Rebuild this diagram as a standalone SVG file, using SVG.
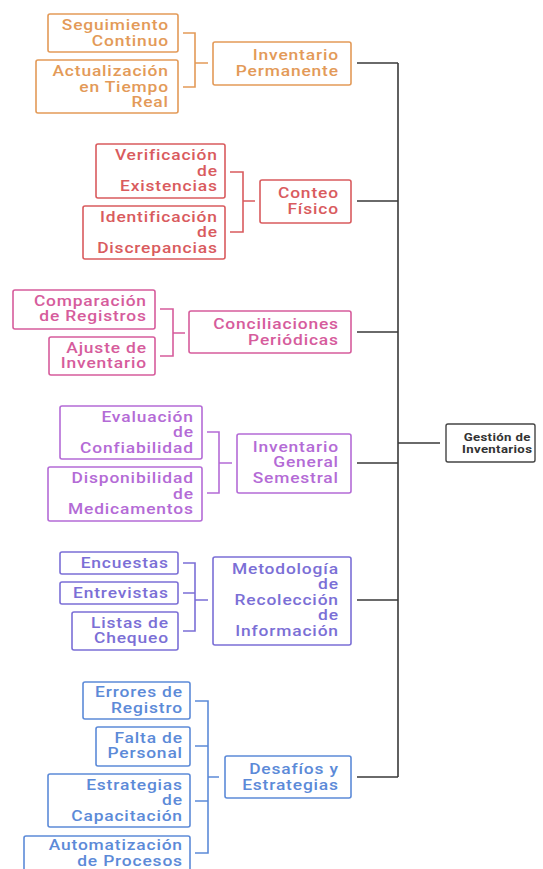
<svg xmlns="http://www.w3.org/2000/svg" width="543" height="869" viewBox="0 0 543 869">
<style>
rect.b{fill:#fff;stroke-width:1.6}
text{font-family:Roboto,"Liberation Sans",sans-serif;font-size:14.5px;font-weight:500;letter-spacing:0.7px;text-anchor:end;transform:scale(1.2,1)}
.or rect{stroke:#E39A58}.or text{fill:#E39A58}
.rd rect{stroke:#D95B5E}.rd text{fill:#D95B5E}
.pk rect{stroke:#D65C9C}.pk text{fill:#D65C9C}
.pu rect{stroke:#B46BD6}.pu text{fill:#B46BD6}
.in rect{stroke:#7B6FD6}.in text{fill:#7B6FD6}
.bl rect{stroke:#5C8AD8}.bl text{fill:#5C8AD8}
#connectors path{fill:none;stroke-width:1.6}
.c-or{stroke:#E39A58}.c-rd{stroke:#D95B5E}.c-pk{stroke:#D65C9C}.c-pu{stroke:#B46BD6}.c-in{stroke:#7B6FD6}.c-bl{stroke:#5C8AD8}.c-main{stroke:#3a3a3a}
#root rect{stroke:#444;fill:#fff;stroke-width:1.4}
#root text{fill:#333;font-size:11px;font-weight:bold;letter-spacing:0.3px;text-anchor:middle}
</style>
<g id="connectors">
<path class="c-main" d="M357 63H398M357 201H398M357 332H398M357 463H398M357 600H398M357 777H398M398 63V777M398 443H440"/>
<path class="c-or" d="M183 33H195V87H183M195 63H208"/>
<path class="c-rd" d="M230 172H243V232H230M243 201H255"/>
<path class="c-pk" d="M160 309H173V356H160M173 333H185"/>
<path class="c-pu" d="M207 432H219V493H207M219 463H232"/>
<path class="c-in" d="M183 563H195V631H183M183 593H195M195 600H208"/>
<path class="c-bl" d="M195 701H208V853H195M195 746H208M195 801H208M208 777H219"/>
</g>
<g id="root"><rect x="446" y="424" width="89" height="38" rx="2"/><text x="414.3" y="441.5">Gestión de</text><text x="414.3" y="453.5">Inventarios</text></g>

<g id="inv-permanente" class="or"><rect class="b" x="213" y="42" width="138" height="43" rx="2"/><text x="282.4" y="60">Inventario</text><text x="282.4" y="76">Permanente</text></g>
<g id="seguimiento" class="or"><rect class="b" x="48" y="14" width="130" height="38" rx="2"/><text x="140.7" y="30.5">Seguimiento</text><text x="140.7" y="46">Continuo</text></g>
<g id="actualizacion" class="or"><rect class="b" x="36" y="60" width="142" height="53" rx="2"/><text x="140.7" y="76.5">Actualización</text><text x="140.7" y="92">en Tiempo</text><text x="140.7" y="107.5">Real</text></g>

<g id="conteo" class="rd"><rect class="b" x="260" y="180" width="91" height="43" rx="2"/><text x="282.4" y="198">Conteo</text><text x="282.4" y="214">Físico</text></g>
<g id="verificacion" class="rd"><rect class="b" x="96" y="144" width="129" height="54" rx="2"/><text x="181.5" y="160.5">Verificación</text><text x="181.5" y="176">de</text><text x="181.5" y="191.5">Existencias</text></g>
<g id="identificacion" class="rd"><rect class="b" x="83" y="206" width="142" height="53" rx="2"/><text x="181.5" y="222">Identificación</text><text x="181.5" y="237.5">de</text><text x="181.5" y="253">Discrepancias</text></g>

<g id="conciliaciones" class="pk"><rect class="b" x="189" y="311" width="162" height="42" rx="2"/><text x="282.4" y="329">Conciliaciones</text><text x="282.4" y="345">Periódicas</text></g>
<g id="comparacion" class="pk"><rect class="b" x="13" y="290" width="142" height="39" rx="2"/><text x="122.4" y="306">Comparación</text><text x="122.4" y="321.5">de Registros</text></g>
<g id="ajuste" class="pk"><rect class="b" x="49" y="337" width="106" height="38" rx="2"/><text x="122.4" y="353">Ajuste de</text><text x="122.4" y="368.5">Inventario</text></g>

<g id="inv-general" class="pu"><rect class="b" x="237" y="434" width="114" height="59" rx="2"/><text x="282.4" y="452">Inventario</text><text x="282.4" y="467.5">General</text><text x="282.4" y="483">Semestral</text></g>
<g id="evaluacion" class="pu"><rect class="b" x="60" y="406" width="142" height="53" rx="2"/><text x="161.5" y="422">Evaluación</text><text x="161.5" y="437.5">de</text><text x="161.5" y="453">Confiabilidad</text></g>
<g id="disponibilidad" class="pu"><rect class="b" x="48" y="467" width="154" height="54" rx="2"/><text x="161.5" y="483.5">Disponibilidad</text><text x="161.5" y="499">de</text><text x="161.5" y="514.5">Medicamentos</text></g>

<g id="metodologia" class="in"><rect class="b" x="213" y="557" width="138" height="88" rx="2"/><text x="282.4" y="574">Metodología</text><text x="282.4" y="589.5">de</text><text x="282.4" y="605">Recolección</text><text x="282.4" y="620.5">de</text><text x="282.4" y="636">Información</text></g>
<g id="encuestas" class="in"><rect class="b" x="60" y="552" width="118" height="22" rx="2"/><text x="140.7" y="568">Encuestas</text></g>
<g id="entrevistas" class="in"><rect class="b" x="60" y="582" width="118" height="22" rx="2"/><text x="140.7" y="598">Entrevistas</text></g>
<g id="listas" class="in"><rect class="b" x="72" y="612" width="106" height="38" rx="2"/><text x="140.7" y="628">Listas de</text><text x="140.7" y="643.5">Chequeo</text></g>

<g id="desafios" class="bl"><rect class="b" x="225" y="756" width="126" height="42" rx="2"/><text x="282.4" y="774">Desafíos y</text><text x="282.4" y="790">Estrategias</text></g>
<g id="errores" class="bl"><rect class="b" x="83" y="682" width="107" height="37" rx="2"/><text x="152.4" y="697.5">Errores de</text><text x="152.4" y="713">Registro</text></g>
<g id="falta" class="bl"><rect class="b" x="96" y="727" width="94" height="39" rx="2"/><text x="152.4" y="743">Falta de</text><text x="152.4" y="758.5">Personal</text></g>
<g id="estrategias" class="bl"><rect class="b" x="48" y="774" width="142" height="53" rx="2"/><text x="152.4" y="790">Estrategias</text><text x="152.4" y="805.5">de</text><text x="152.4" y="821">Capacitación</text></g>
<g id="automatizacion" class="bl"><rect class="b" x="24" y="836" width="166" height="40" rx="2"/><text x="152.4" y="850.5">Automatización</text><text x="152.4" y="866">de Procesos</text></g>
</svg>
